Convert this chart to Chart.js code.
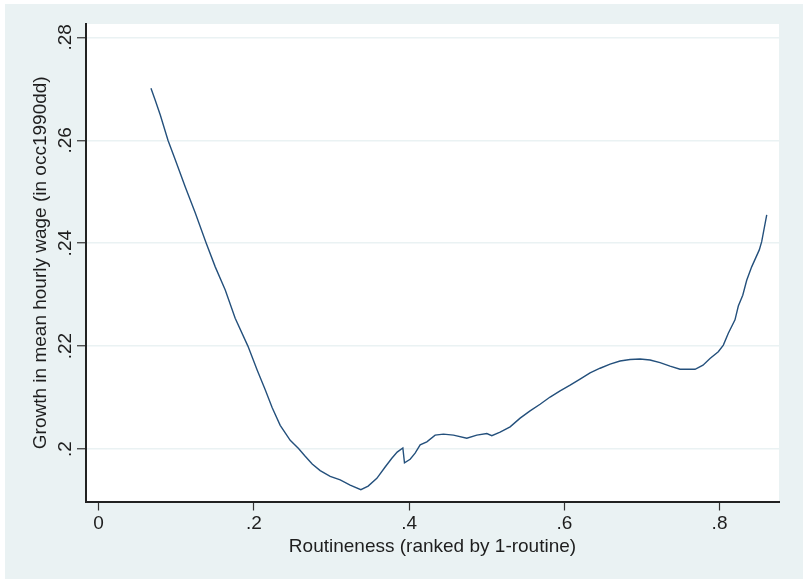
<!DOCTYPE html>
<html>
<head>
<meta charset="utf-8">
<script src="https://cdn.jsdelivr.net/npm/chart.js@4.4.0/dist/chart.umd.min.js"></script>
<style>
  html, body { margin: 0; padding: 0; background: #ffffff; }
  #wrap { position: absolute; left: 0; top: 0; width: 803px; height: 579px; }
</style>
</head>
<body>
<div id="wrap"><canvas id="c" width="803" height="579"></canvas></div>
<script>
// ---- data ----
const xValues = [0.0675,0.0730,0.0795,0.0894,0.0988,0.1117,0.1245,0.1387,0.1503,0.1632,0.1760,0.1924,0.2044,0.2147,0.2237,0.2340,0.2469,0.2576,0.2662,0.2752,0.2855,0.2984,0.3113,0.3241,0.3379,0.3473,0.3585,0.3692,0.3778,0.3847,0.3920,0.3941,0.4014,0.4078,0.4143,0.4229,0.4336,0.4443,0.4572,0.4744,0.4873,0.5002,0.5066,0.5173,0.5302,0.5431,0.5559,0.5688,0.5817,0.5946,0.6075,0.6203,0.6332,0.6461,0.6590,0.6718,0.6847,0.6976,0.7105,0.7234,0.7362,0.7491,0.7620,0.7684,0.7787,0.7877,0.7984,0.8049,0.8113,0.8199,0.8242,0.8299,0.8350,0.8414,0.8512,0.8543,0.8608];
const yValues = [0.2701,0.2678,0.2649,0.2600,0.2562,0.2509,0.2459,0.2400,0.2354,0.2309,0.2254,0.2200,0.2153,0.2115,0.2080,0.2046,0.2017,0.2001,0.1986,0.1971,0.1958,0.1947,0.1940,0.1930,0.1921,0.1928,0.1943,0.1965,0.1982,0.1994,0.2002,0.1973,0.1980,0.1992,0.2008,0.2014,0.2027,0.2029,0.2027,0.2021,0.2027,0.2030,0.2026,0.2033,0.2043,0.2060,0.2074,0.2087,0.2101,0.2113,0.2124,0.2136,0.2148,0.2157,0.2165,0.2171,0.2174,0.2175,0.2173,0.2168,0.2161,0.2155,0.2155,0.2155,0.2163,0.2176,0.2189,0.2202,0.2225,0.2251,0.2278,0.2299,0.2328,0.2354,0.2387,0.2403,0.2455];
const xTicks = [0, 0.2, 0.4, 0.6, 0.8];
const xTickLabels = ['0', '.2', '.4', '.6', '.8'];
const yTicks = [0.2, 0.22, 0.24, 0.26, 0.28];
const yTickLabels = ['.2', '.22', '.24', '.26', '.28'];
const xTitle = 'Routineness (ranked by 1-routine)';
const yTitle = 'Growth in mean hourly wage (in occ1990dd)';

const points = xValues.map((x, i) => ({ x: x, y: yValues[i] }));

const FONT = '"Liberation Sans", Arial, sans-serif';
const BG = '#eaf2f3';

const bgPlugin = {
  id: 'bg',
  beforeDraw(chart) {
    const { ctx, chartArea } = chart;
    ctx.save();
    ctx.fillStyle = '#ffffff';
    ctx.fillRect(0, 0, chart.width, chart.height);
    ctx.fillStyle = BG;
    ctx.fillRect(5, 4, chart.width - 5, chart.height - 4);
    ctx.fillStyle = '#ffffff';
    ctx.fillRect(chartArea.left, chartArea.top, chartArea.right - chartArea.left, chartArea.bottom - chartArea.top);
    ctx.restore();
  }
};

new Chart(document.getElementById('c'), {
  type: 'scatter',
  data: {
    datasets: [{
      data: points,
      showLine: true,
      borderColor: '#24507c',
      borderWidth: 1.4,
      pointRadius: 0,
      pointHoverRadius: 0,
      tension: 0,
      fill: false
    }]
  },
  options: {
    responsive: false,
    animation: false,
    events: [],
    layout: { padding: { left: 0, top: 24, right: 24, bottom: 0 } },
    plugins: { legend: { display: false }, tooltip: { enabled: false } },
    scales: {
      x: {
        type: 'linear',
        min: -0.0162,
        max: 0.8766,
        afterBuildTicks: (s) => { s.ticks = xTicks.map(v => ({ value: v })); },
        afterFit: (s) => { s.height = 77.5; },
        ticks: {
          callback: (v, i) => xTickLabels[i],
          font: { family: FONT, size: 19 },
          color: '#1e1e1e',
          padding: 2,
          maxRotation: 0,
          minRotation: 0
        },
        grid: {
          drawOnChartArea: false,
          drawTicks: true,
          tickLength: 9,
          tickColor: '#333333',
          tickWidth: 1.2
        },
        border: { display: true, color: '#222222', width: 2 },
        title: {
          display: true,
          text: xTitle,
          font: { family: FONT, size: 19 },
          color: '#1e1e1e',
          padding: { top: 0, bottom: 21 }
        }
      },
      y: {
        type: 'linear',
        min: 0.1898,
        max: 0.2826,
        afterBuildTicks: (s) => { s.ticks = yTicks.map(v => ({ value: v })); },
        afterFit: (s) => { s.width = 86; },
        ticks: {
          callback: (v, i) => yTickLabels[i],
          font: { family: FONT, size: 19 },
          color: '#1e1e1e',
          padding: -2,
          minRotation: 90,
          maxRotation: 90,
          crossAlign: 'center'
        },
        grid: {
          drawOnChartArea: true,
          color: '#eaf2f3',
          lineWidth: 1.5,
          drawTicks: true,
          tickLength: 9,
          tickColor: '#333333',
          tickWidth: 1.2
        },
        border: { display: true, color: '#222222', width: 2 },
        title: {
          display: true,
          text: yTitle,
          font: { family: FONT, size: 19 },
          color: '#1e1e1e',
          padding: { top: 29, bottom: 0 }
        }
      }
    }
  },
  plugins: [bgPlugin]
});
</script>
</body>
</html>
